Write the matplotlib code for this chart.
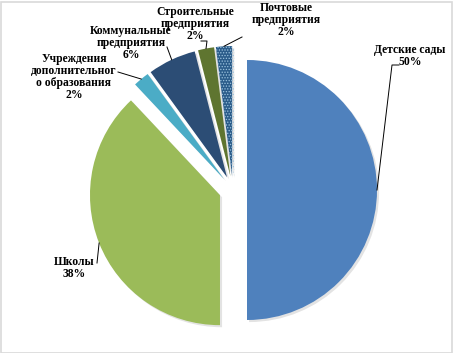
import numpy as np
import matplotlib.pyplot as plt
import matplotlib.patheffects as pe
from matplotlib.patches import Rectangle

plt.rcParams["hatch.linewidth"] = 0.6

# data
labels = ["Детские сады", "Школы", "Учреждения\nдополнительног\nо образования",
          "Коммунальные\nпредприятия", "Строительные\nпредприятия", "Почтовые\nпредприятия"]
shares = [50, 38, 2, 6, 2, 2]
colors = ["#4F81BD", "#9BBB59", "#4BACC6", "#2C4D75", "#5F7530", "#2B5C8A"]

W, H = 453, 353
fig = plt.figure(figsize=(W / 100, H / 100), dpi=100)
ax = fig.add_axes([0, 0, 1, 1])

R = 130
cx, cy = 233, 190
expl = 14

# y axis is inverted below, so counterclock=True draws clockwise on screen
wedges, _ = ax.pie(shares, colors=colors, startangle=-90, counterclock=True,
                   radius=R, center=(cx, cy), explode=[expl] * len(shares),
                   wedgeprops=dict(linewidth=0), frame=True)
ax.set_xlim(0, W)
ax.set_ylim(H, 0)  # pixel coords, y down
ax.set_aspect("equal")
ax.axis("off")

# dotted pattern on the last slice
wedges[-1].set_hatch("......")
wedges[-1].set_edgecolor("#9CC3DE")
wedges[-1].set_linewidth(0)

for w in wedges:
    w.set_path_effects([pe.SimplePatchShadow(offset=(1.5, -1.5), shadow_rgbFace="#808080", alpha=0.22),
                        pe.Normal()])

# label block centres and leader start points (pixels)
text_pos = [(410, 56), (74, 268), (74, 77), (131, 43), (195, 24), (286, 20)]
leader_start = [[(399, 65), (392, 65)], [(97, 263)], [(118, 72)], [(167, 47)],
                [(201, 41), (207, 41)], [(242, 37)]]

font = dict(family="Liberation Serif", weight="bold", size=8.4)
for w, lab, s, tp, ls in zip(wedges, labels, shares, text_pos, leader_start):
    ax.text(tp[0], tp[1], f"{lab}\n{s}%", ha="center", va="center",
            linespacing=0.98, **font)
    # point on the arc at the wedge bisector
    th = np.deg2rad((w.theta1 + w.theta2) / 2)
    ex = w.center[0] + R * np.cos(th)
    ey = w.center[1] + R * np.sin(th)
    xs = [p[0] for p in ls] + [ex]
    ys = [p[1] for p in ls] + [ey]
    ax.plot(xs, ys, color="black", lw=0.7)

fig.patches.append(Rectangle((0.5 / W, 0.5 / H), 1 - 2 / W, 1 - 2 / H, transform=fig.transFigure,
                             fill=False, edgecolor="#D9D9D9", lw=1.2))

fig.savefig("out.png", dpi=100)
